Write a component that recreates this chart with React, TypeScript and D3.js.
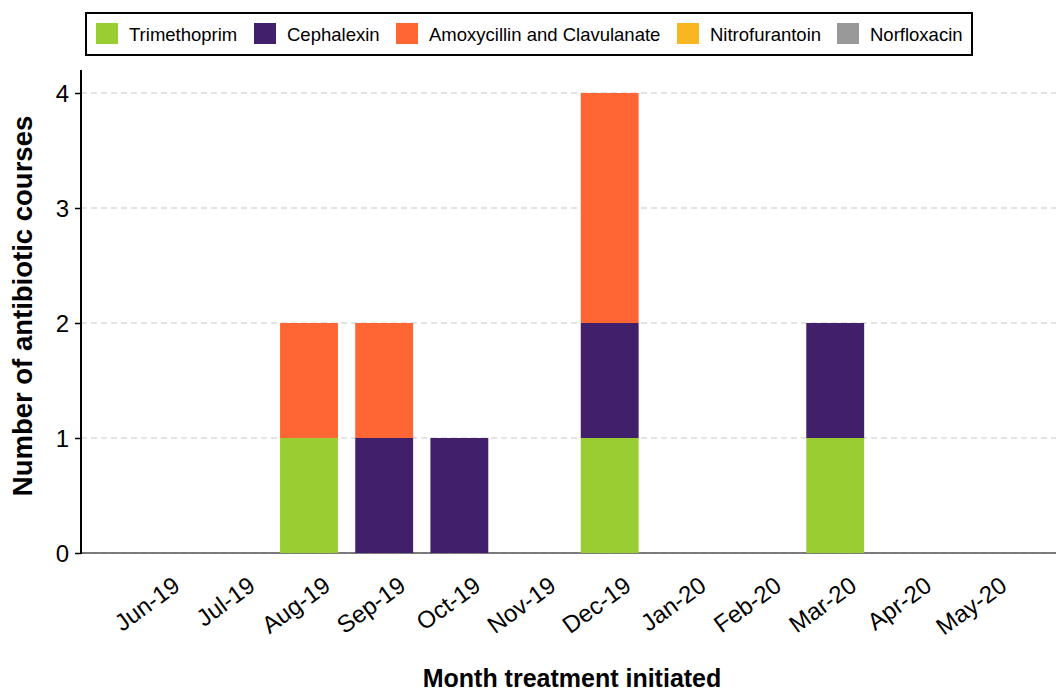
import React, { useEffect, useRef } from 'react';
import * as d3 from 'd3';

const months = ['Jun-19', 'Jul-19', 'Aug-19', 'Sep-19', 'Oct-19', 'Nov-19', 'Dec-19', 'Jan-20', 'Feb-20', 'Mar-20', 'Apr-20', 'May-20'];
const drugs = ['Trimethoprim', 'Cephalexin', 'Amoxycillin and Clavulanate', 'Nitrofurantoin', 'Norfloxacin'];
const drugColors = ['#9acd32', '#421f6b', '#ff6633', '#f8b620', '#999999'];

const trimethoprim = [0, 0, 1, 0, 0, 0, 1, 0, 0, 1, 0, 0];
const cephalexin = [0, 0, 0, 1, 1, 0, 1, 0, 0, 1, 0, 0];
const amoxClav = [0, 0, 1, 1, 0, 0, 2, 0, 0, 0, 0, 0];
const nitrofurantoin = [0, 0, 0, 0, 0, 0, 0, 0, 0, 0, 0, 0];
const norfloxacin = [0, 0, 0, 0, 0, 0, 0, 0, 0, 0, 0, 0];

const yTicks = [0, 1, 2, 3, 4];

const FONT = 'Liberation Sans, Arial, sans-serif';

export default function App() {
  const svgRef = useRef<SVGSVGElement>(null);

  useEffect(() => {
    if (!svgRef.current) return;
    const width = 1056;
    const height = 693;
    const svg = d3.select(svgRef.current);
    svg.selectAll('*').remove();

    const left = 81;
    const right = 1056;
    const y0 = 553;
    const yTop = 70;

    const series = [trimethoprim, cephalexin, amoxClav, nitrofurantoin, norfloxacin];
    const table = months.map((m, i) => {
      const row: Record<string, any> = { month: m };
      drugs.forEach((d, j) => { row[d] = series[j][i]; });
      return row;
    });

    const x = d3.scaleBand()
      .domain(months)
      .range([left, right])
      .paddingInner(0.23)
      .paddingOuter(0.6)
      .align(0.54);

    const y = d3.scaleLinear()
      .domain([0, 4.2])
      .range([y0, yTop]);

    // gridlines
    svg.append('g')
      .selectAll('line')
      .data(yTicks)
      .enter()
      .append('line')
      .attr('x1', left)
      .attr('x2', right)
      .attr('y1', d => y(d))
      .attr('y2', d => y(d))
      .attr('stroke', '#c8c8c8')
      .attr('stroke-width', 1.2)
      .attr('stroke-dasharray', '6,4');

    // baseline from zero-height bars
    svg.append('line')
      .attr('x1', left).attr('x2', right)
      .attr('y1', y(0)).attr('y2', y(0))
      .attr('stroke', '#555')
      .attr('stroke-width', 1.5);

    const stack = d3.stack<any>().keys(drugs);
    const stacked = stack(table);

    svg.append('g')
      .selectAll('g')
      .data(stacked)
      .enter()
      .append('g')
      .attr('fill', (_, i) => drugColors[i])
      .selectAll('rect')
      .data(d => d.filter(s => s[1] - s[0] > 0))
      .enter()
      .append('rect')
      .attr('x', d => x(d.data.month) || 0)
      .attr('width', x.bandwidth())
      .attr('y', d => y(d[1]))
      .attr('height', d => y(d[0]) - y(d[1]));

    // y axis
    const yAxis = svg.append('g')
      .attr('transform', `translate(${left},0)`)
      .call(d3.axisLeft(y).tickValues(yTicks).tickSize(6).tickPadding(6).tickFormat(d3.format('d')));
    yAxis.select('.domain').remove();
    yAxis.selectAll('line').attr('stroke', '#000').attr('stroke-width', 1.5);
    yAxis.selectAll('text').style('font-family', FONT).style('font-size', '24px').attr('fill', '#000').attr('dy', '0.36em');
    svg.append('line')
      .attr('x1', left).attr('x2', left)
      .attr('y1', yTop).attr('y2', y0 + 1)
      .attr('stroke', '#000').attr('stroke-width', 2);

    // x tick labels
    svg.append('g')
      .selectAll('text')
      .data(months)
      .enter()
      .append('text')
      .attr('transform', d => `translate(${(x(d) || 0) + x.bandwidth() / 2 + 23},${y0 + 36}) rotate(-36)`)
      .attr('text-anchor', 'end')
      .style('font-family', FONT)
      .style('font-size', '24px')
      .attr('fill', '#000')
      .text(d => d);

    // axis titles
    svg.append('text')
      .attr('x', 572)
      .attr('y', 687)
      .attr('text-anchor', 'middle')
      .style('font-family', FONT)
      .style('font-size', '25px')
      .style('font-weight', 'bold')
      .text('Month treatment initiated');

    svg.append('text')
      .attr('transform', `translate(32,306) rotate(-90)`)
      .attr('text-anchor', 'middle')
      .style('font-family', FONT)
      .style('font-size', '27.5px')
      .style('font-weight', 'bold')
      .text('Number of antibiotic courses');

    // legend
    const legend = svg.append('g');
    legend.append('rect')
      .attr('x', 86).attr('y', 13)
      .attr('width', 886).attr('height', 42)
      .attr('fill', '#fff')
      .attr('stroke', '#000')
      .attr('stroke-width', 2);
    const legendX = [96, 254, 396, 677, 837];
    drugs.forEach((d, i) => {
      legend.append('rect')
        .attr('x', legendX[i]).attr('y', 23)
        .attr('width', 22).attr('height', 21)
        .attr('fill', drugColors[i]);
      legend.append('text')
        .attr('x', legendX[i] + 33)
        .attr('y', 41)
        .style('font-family', FONT)
        .style('font-size', '18.5px')
        .text(d);
    });

    svg.attr('width', width).attr('height', height);
  }, []);

  return (
    <svg ref={svgRef} width={1056} height={693} style={{ position: 'absolute', left: 0, top: 0, background: '#fff' }} />
  );
}
